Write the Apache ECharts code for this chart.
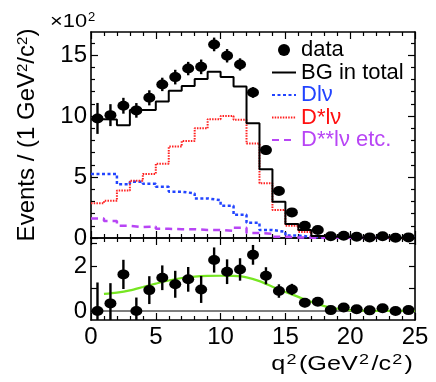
<!DOCTYPE html>
<html>
<head>
<meta charset="utf-8">
<script src="https://cdn.jsdelivr.net/npm/echarts@6/dist/echarts.min.js"></script>
<style>html,body{margin:0;padding:0;background:#fff}#c{width:436px;height:382px}</style>
</head>
<body>
<div id="c"></div>
<script>
// ---- data ----
const binCenters = [0.5,1.5,2.5,3.5,4.5,5.5,6.5,7.5,8.5,9.5,10.5,11.5,12.5,13.5,14.5,15.5,16.5,17.5,18.5,19.5,20.5,21.5,22.5,23.5,24.5];
const dataTop = [9.81,10.08,10.85,10.47,11.5,12.6,13.2,13.9,14.04,15.88,14.95,14.24,11.94,7.21,3.85,2.1,1.0,0.66,0.14,0.18,0.1,0.05,0.15,0.02,0.05];
const dataErr = [1.27,0.9,0.65,0.6,0.62,0.55,0.6,0.55,0.6,0.56,0.55,0.5,0.44,0.38,0.3,0.25,0.2,0.15,0.1,0.1,0.1,0.1,0.1,0.1,0.1];
const bgTotal = [9.75,9.72,9.26,10.5,10.5,11.2,12.07,12.46,13.05,13.63,13.2,12.43,9.42,5.63,2.98,1.15,0.66,0.16,0.1,0.08,0.03,0.02,0.06,0.02,0.01];
const dlnu = [5.25,5.25,4.4,4.62,4.45,4.2,3.8,3.66,3.25,3.1,2.65,1.9,1.25,0.66,0.5,0.2,0.1,0.05,0.03,0.02,0.01,0.01,0.01,0.01,0.01];
const dstarlnu = [2.85,3.05,3.9,4.7,5.25,6.1,7.5,7.95,9.0,9.75,10.0,9.7,7.75,4.5,2.3,1.0,0.5,0.15,0.05,0.02,0.01,0.01,0.01,0.01,0.01];
const dsslnu = [1.6,1.4,1.0,0.9,0.95,0.75,0.72,0.72,0.66,0.66,0.58,0.85,0.4,0.35,0.1,0.05,0.03,0.02,0.02,0.01,0.01,0.01,0.01,0.01,0.01];
const resid = [0.0,0.34,1.63,0.0,0.93,1.48,1.19,1.41,0.96,2.27,1.75,1.85,2.5,1.57,0.89,0.96,0.37,0.41,0.04,0.16,0.08,0.03,0.12,0.0,0.04];
const fitX = [1,2,3,4,5,6,7,8,9,10,11,12,13,14,15,16,17,18,19,20,21,22,23,24,25];
const fitY = [0.76,0.82,0.92,1.07,1.22,1.36,1.47,1.53,1.56,1.57,1.56,1.5,1.33,1.08,0.85,0.63,0.41,0.22,0.1,0.04,0.02,0.01,0.01,0.01,0.01];
const yTopTicks = [0,5,10,15];
const yTopMinor = [1,2,3,4,6,7,8,9,11,12,13,14,16];
const yBotTicks = [0,1,2,3];
const yBotLabels = [0,2];

const X_MIN = 0, X_MAX = 25;
const YT_MIN = 0, YT_MAX = 16.9;
const YB_MIN = -0.4, YB_MAX = 3.25;

// ---- build library data ----
function stepData(vals){
  const pts = vals.map((v,i)=>[binCenters[i]-0.5, v]);
  pts.push([binCenters[binCenters.length-1]+0.5, vals[vals.length-1]]);
  return pts;
}
const FONT = 'Liberation Sans, Arial, Helvetica, sans-serif';

function errSeries(vals, xi, yi, yMin){
  return {
    type:'custom', xAxisIndex:xi, yAxisIndex:yi, z:5, silent:true,
    data: vals.map((v,i)=>[binCenters[i], v, dataErr[i]]),
    encode:{x:0,y:1},
    renderItem:function(params, api){
      const x = api.value(0), y = api.value(1), e = api.value(2);
      const p1 = api.coord([x, Math.max(y-e, yMin)]);
      const p2 = api.coord([x, y+e]);
      return {type:'line', shape:{x1:p1[0],y1:p1[1],x2:p2[0],y2:p2[1]}, style:{stroke:'#000', lineWidth:2.4}};
    }
  };
}

const frameLine = {onZero:false, lineStyle:{color:'#000', width:1.6}};
function xAx(grid, pos, labels){
  return {
    type:'value', gridIndex:grid, position:pos, min:X_MIN, max:X_MAX, interval:5,
    axisLine: frameLine,
    axisTick:{show:true, inside:true, length:7, lineStyle:{color:'#000', width:1.2}},
    minorTick:{show:true, splitNumber:5, length:4, lineStyle:{color:'#000', width:1.2}},
    axisLabel:{show:labels, color:'#000', fontSize:24, fontFamily:FONT, margin:5},
    splitLine:{show:false}
  };
}
function yAx(grid, pos, min, max, ticks, len, labels, showLine){
  return {
    type:'value', gridIndex:grid, position:pos, min:min, max:max,
    axisLine: showLine ? frameLine : {show:false, onZero:false},
    axisTick:{show:true, inside:true, length:len, customValues:ticks, lineStyle:{color:'#000', width:1.2}},
    axisLabel: labels ? {show:true, customValues:labels, color:'#000', fontSize:24, fontFamily:FONT, margin:4} : {show:false},
    splitLine:{show:false}
  };
}

const yMain = yAx(0,'left',YT_MIN,YT_MAX,yTopTicks,7,yTopTicks,true);
yMain.name = 'Events / (1 GeV{s|2}/c{s|2})';
yMain.nameLocation = 'middle';
yMain.nameRotate = 90;
yMain.nameGap = 52;
yMain.nameTextStyle = {color:'#000', fontSize:24, fontFamily:FONT, rich:{s:{fontSize:15, fontFamily:FONT, verticalAlign:'top', color:'#000'}}};

const hideSym = {opacity:0, color:'rgba(0,0,0,0)', borderWidth:0};

const option = {
  animation:false,
  backgroundColor:'#fff',
  grid:[
    {left:91, right:21, top:32, height:206},
    {left:91, right:21, top:238, height:82}
  ],
  graphic:[
    {type:'text', x:413, y:364, scaleX:1.2, silent:true,
     style:{text:'q{s|2}(GeV{s|2}/c{s|2})', fill:'#000', fontSize:21, fontFamily:FONT, lineHeight:24,
       align:'right', verticalAlign:'middle',
       rich:{s:{fontSize:15, fontFamily:FONT, verticalAlign:'top', fill:'#000', padding:[0,2,0,1]}}}},
    {type:'text', x:50, y:22, scaleX:1.15, silent:true, z:100,
     style:{text:'×10', fill:'#000', fontSize:19, fontFamily:FONT, align:'left', verticalAlign:'middle'}},
    {type:'text', x:88, y:17, silent:true, z:100,
     style:{text:'2', fill:'#000', fontSize:13, fontFamily:FONT, align:'left', verticalAlign:'middle'}}
  ],
  legend:{
    orient:'vertical', left:271, top:39, itemWidth:24, itemHeight:12, itemGap:0.5, padding:0,
    textStyle:{fontSize:22, fontFamily:FONT, lineHeight:18, color:'#000'},
    data:[
      {name:'data', textStyle:{color:'#000'}},
      {name:'BG in total', textStyle:{color:'#000'}, itemStyle:hideSym},
      {name:'Dlν', textStyle:{color:'#2244ff'}, itemStyle:hideSym},
      {name:'D*lν', textStyle:{color:'#ff1010'}, itemStyle:hideSym},
      {name:'D**lν etc.', textStyle:{color:'#b845f5'}, itemStyle:hideSym}
    ]
  },
  xAxis:[ xAx(0,'bottom',false), xAx(0,'top',false), xAx(1,'bottom',true), xAx(1,'top',false) ],
  yAxis:[
    yMain,
    yAx(0,'left',YT_MIN,YT_MAX,yTopMinor,4,null,false),
    yAx(0,'right',YT_MIN,YT_MAX,yTopTicks,7,null,true),
    yAx(0,'right',YT_MIN,YT_MAX,yTopMinor,4,null,false),
    yAx(1,'left',YB_MIN,YB_MAX,yBotTicks,6,yBotLabels,true),
    yAx(1,'right',YB_MIN,YB_MAX,yBotTicks,6,null,true)
  ],
  series:[
    {name:'Dlν', type:'line', step:'end', symbol:'none', xAxisIndex:0, yAxisIndex:0, z:2,
     data:stepData(dlnu), color:'#2244ff', lineStyle:{color:'#2244ff', width:2.5, type:[3,2.5]}},
    {name:'D*lν', type:'line', step:'end', symbol:'none', xAxisIndex:0, yAxisIndex:0, z:2,
     data:stepData(dstarlnu), color:'#ff1010', lineStyle:{color:'#ff2020', width:2, type:[1.5,1.2]}},
    {name:'D**lν etc.', type:'line', step:'end', symbol:'none', xAxisIndex:0, yAxisIndex:0, z:2,
     data:stepData(dsslnu), color:'#b845f5', lineStyle:{color:'#b845f5', width:2.5, type:[7,5]}},
    {name:'BG in total', type:'line', step:'end', symbol:'none', xAxisIndex:0, yAxisIndex:0, z:3,
     data:stepData(bgTotal), color:'#000', lineStyle:{color:'#000', width:2}},
    errSeries(dataTop, 0, 0, YT_MIN),
    {name:'data', type:'scatter', xAxisIndex:0, yAxisIndex:0, z:6, symbol:'circle', symbolSize:[12,10],
     itemStyle:{color:'#000', opacity:1}, data:binCenters.map((x,i)=>[x, dataTop[i]])},
    {name:'zero', type:'line', symbol:'none', xAxisIndex:2, yAxisIndex:4, z:2, silent:true,
     data:[[X_MIN,0],[X_MAX,0]], lineStyle:{color:'#000', width:1}},
    {name:'fit', type:'line', symbol:'none', smooth:0.3, xAxisIndex:2, yAxisIndex:4, z:3, silent:true,
     data:fitX.map((x,i)=>[x, fitY[i]]), lineStyle:{color:'#77e622', width:2.2}},
    errSeries(resid, 2, 4, YB_MIN),
    {name:'data', type:'scatter', xAxisIndex:2, yAxisIndex:4, z:6, symbol:'circle', symbolSize:[12,10],
     itemStyle:{color:'#000', opacity:1}, data:binCenters.map((x,i)=>[x, resid[i]])}
  ]
};
const chart = echarts.init(document.getElementById('c'), null, {renderer:'canvas'});
chart.setOption(option);
</script>
</body>
</html>
